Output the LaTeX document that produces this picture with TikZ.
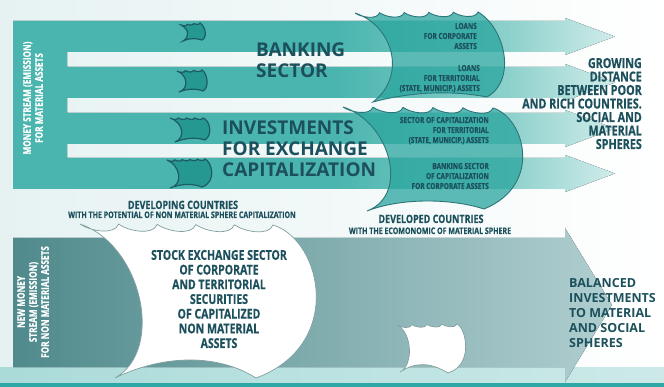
\documentclass[tikz,border=0pt]{standalone}
\usepackage{fontspec}
\setmainfont{Open Sans}
\newfontfamily\narrowfont{Open Sans}[FakeStretch=0.78,FakeBold=0.5]
\usetikzlibrary{calc}
\definecolor{streamteal}{RGB}{74,181,174}
\definecolor{streammid}{RGB}{140,208,203}
\definecolor{streamlight}{RGB}{208,236,234}
\definecolor{sailteal}{RGB}{40,165,158}
\definecolor{sailline}{RGB}{44,118,122}
\definecolor{flagline}{RGB}{28,92,98}
\definecolor{deepteal}{RGB}{28,80,92}
\definecolor{greyteal}{RGB}{80,138,140}
\definecolor{greylight}{RGB}{176,206,208}
\definecolor{bgpale}{RGB}{230,242,242}
\definecolor{bandteal}{RGB}{170,219,217}
\definecolor{edgeteal}{RGB}{45,168,166}
\definecolor{whiteline}{RGB}{128,158,160}
\pgfdeclarehorizontalshading{streamfade}{100bp}{color(0bp)=(streamteal); color(25bp)=(streamteal); color(52bp)=(streamteal); color(66bp)=(streammid); color(75bp)=(streamlight); color(100bp)=(streamlight)}

\begin{document}
\begin{tikzpicture}[x=1pt,y=-1pt,
    crest/.style={out=-35,in=-110,looseness=0.8},
    sail/.style={fill=sailteal,fill opacity=0.75,draw=sailline,line width=0.9pt},
    minisail/.style={fill=sailteal!92!black,draw=flagline,line width=1.2pt},
    papersail/.style={fill=white,draw=whiteline,line width=0.7pt},
    headline/.style={font=\bfseries\fontsize{19}{21}\selectfont,text=deepteal,inner sep=0pt,align=left},
    loantext/.style={font=\narrowfont\bfseries\fontsize{8.3}{10}\selectfont,text=deepteal,inner sep=0pt,align=right},
    growtext/.style={font=\narrowfont\bfseries\fontsize{13.8}{13.5}\selectfont,text=deepteal,inner sep=0pt,align=right},
    stocktext/.style={font=\narrowfont\bfseries\fontsize{13.5}{14.7}\selectfont,text=deepteal,inner sep=0pt,align=center},
    devtitle/.style={font=\narrowfont\bfseries\fontsize{11.5}{12}\selectfont,text=deepteal,inner sep=0pt,anchor=base},
    devsub/.style={font=\narrowfont\bfseries\fontsize{9}{10}\selectfont,text=deepteal,inner sep=0pt,anchor=base},
    sidetext/.style={font=\narrowfont\bfseries\fontsize{10.5}{12}\selectfont,text=white,inner sep=0pt,align=center,rotate=90},
    baltext/.style={font=\bfseries\fontsize{12.5}{14.75}\selectfont,text=deepteal,inner sep=0pt,align=left}]
  \useasboundingbox (0,0) rectangle (664,387);
  % background and bottom band
  \fill[left color=bgpale,right color=white] (0,0) rectangle (664,367);
  \fill[left color=bandteal,right color=bandteal!60!white] (0,367) rectangle (664,383);
  \fill[edgeteal] (0,383) rectangle (664,387);
  % upper money stream: side block and four arrows
  \fill[shading=streamfade]
    (13,21) -- (565,21) -- (565,18) -- (615,36.5) -- (565,55) -- (565,52)
    -- (67,52) -- (67,67) -- (565,67) -- (565,64) -- (615,82.5) -- (565,101) -- (565,98)
    -- (67,98) -- (67,113) -- (565,113) -- (565,110) -- (615,128.5) -- (565,147) -- (565,144)
    -- (67,144) -- (67,158) -- (565,158) -- (565,155) -- (615,173.5) -- (565,192) -- (565,189)
    -- (13,189) -- cycle;
  % lower money stream
  \fill[left color=greyteal,right color=greylight]
    (13,238) -- (565,238) -- (565,228) -- (612,305) -- (565,382) -- (565,367) -- (13,367) -- cycle;
  % small sails
  \coordinate (sa-tl) at (181,25); \coordinate (sa-tr) at (200,23);
  \coordinate (sa-br) at (202,40); \coordinate (sa-bl) at (183,41);
  \draw[minisail] (sa-tl) \foreach \k in {1,...,3}{ to[crest] ($(sa-tl)!\k/3!(sa-tr)$) }
    .. controls (205,26) and (208,37) .. (sa-br) .. controls (196,38) and (189,38) .. (sa-bl)
    .. controls (190,37) and (189,29) .. (sa-tl) -- cycle;
  \coordinate (sb-tl) at (177,71); \coordinate (sb-tr) at (202,70);
  \coordinate (sb-br) at (203,91); \coordinate (sb-bl) at (179,92);
  \draw[minisail] (sb-tl) \foreach \k in {1,...,3}{ to[crest] ($(sb-tl)!\k/3!(sb-tr)$) }
    .. controls (207,73) and (210,87) .. (sb-br) .. controls (196,88) and (186,89) .. (sb-bl)
    .. controls (189,89) and (188,75) .. (sb-tl) -- cycle;
  \coordinate (sc-tl) at (170,118); \coordinate (sc-tr) at (203,118);
  \coordinate (sc-br) at (205,140); \coordinate (sc-bl) at (175,142);
  \draw[minisail] (sc-tl) \foreach \k in {1,...,4}{ to[crest] ($(sc-tl)!\k/4!(sc-tr)$) }
    .. controls (210,120) and (213,135) .. (sc-br) .. controls (196,137) and (185,138) .. (sc-bl)
    .. controls (186,138) and (183,122) .. (sc-tl) -- cycle;
  \coordinate (sd-tl) at (167,160); \coordinate (sd-tr) at (205,159);
  \coordinate (sd-br) at (202,187); \coordinate (sd-bl) at (170,188);
  \draw[minisail] (sd-tl) \foreach \k in {1,...,5}{ to[crest] ($(sd-tl)!\k/5!(sd-tr)$) }
    .. controls (212,162) and (217,182) .. (sd-br) .. controls (192,183) and (180,184) .. (sd-bl)
    .. controls (184,185) and (180,165) .. (sd-tl) -- cycle;
  % big teal sails
  \coordinate (up-tl) at (355,13); \coordinate (up-tr) at (478,12);
  \coordinate (up-br) at (487,97); \coordinate (up-bl) at (373,102);
  \draw[sail] (up-tl) \foreach \k in {1,...,5}{ to[crest] ($(up-tl)!\k/5!(up-tr)$) }
    .. controls (505,28) and (517,80) .. (up-br) .. controls (450,90) and (410,92) .. (up-bl)
    .. controls (408,75) and (392,25) .. (up-tl) -- cycle;
  \coordinate (lo-tl) at (343,107); \coordinate (lo-tr) at (493,108);
  \coordinate (lo-br) at (484,209); \coordinate (lo-bl) at (367,211);
  \draw[sail] (lo-tl) \foreach \k in {1,...,5}{ to[crest] ($(lo-tl)!\k/5!(lo-tr)$) }
    .. controls (525,118) and (543,185) .. (lo-br) .. controls (450,198) and (400,198) .. (lo-bl)
    .. controls (410,195) and (390,122) .. (lo-tl) -- cycle;
  % white sails
  \coordinate (wb-tl) at (80,224); \coordinate (wb-tr) at (273,225);
  \coordinate (wb-br) at (256,378); \coordinate (wb-bl) at (115,378);
  \draw[papersail] (wb-tl) \foreach \k in {1,...,5}{ to[crest] ($(wb-tl)!\k/5!(wb-tr)$) }
    .. controls (322,240) and (345,345) .. (wb-br) .. controls (215,352) and (160,356) .. (wb-bl)
    .. controls (165,350) and (142,245) .. (wb-tl) -- cycle;
  \coordinate (ws-tl) at (397,325); \coordinate (ws-tr) at (457,324);
  \coordinate (ws-br) at (448,373); \coordinate (ws-bl) at (400,372);
  \draw[papersail] (ws-tl) \foreach \k in {1,...,4}{ to[crest] ($(ws-tl)!\k/4!(ws-tr)$) }
    .. controls (466,328) and (474,365) .. (ws-br) .. controls (430,362) and (415,362) .. (ws-bl)
    .. controls (414,365) and (412,332) .. (ws-tl) -- cycle;
  % texts (base = last line)
  \node[sidetext] (oldmoney) at (33,98) {MONEY STREAM (EMISSION)\\FOR MATERIAL ASSETS};
  \node[sidetext] (newmoney) at (33,302) {NEW MONEY\\STREAM (EMISSION)\\FOR NON MATERIAL ASSETS};
  \node[headline,anchor=base west] (banking) at (256,77.5) {BANKING\\SECTOR};
  \node[headline,anchor=base west] (invest) at (222,177) {INVESTMENTS\\FOR EXCHANGE\\CAPITALIZATION};
  \node[loantext,anchor=base east] (loancorp) at (477,49) {LOANS\\FOR CORPORATE\\ASSETS};
  \node[loantext,anchor=base east] (loanterr) at (480,91) {LOANS\\FOR TERRITORIAL\\(STATE, MUNICIP.) ASSETS};
  \node[loantext,anchor=base east] (capterr) at (489,143) {SECTOR OF CAPITALIZATION\\FOR TERRITORIAL\\(STATE, MUNICIP.) ASSETS};
  \node[loantext,anchor=base east] (capcorp) at (489,189) {BANKING SECTOR\\OF CAPITALIZATION\\FOR CORPORATE ASSETS};
  \node[growtext,anchor=base east] (growing) at (642,149) {GROWING\\DISTANCE\\BETWEEN POOR\\AND RICH COUNTRIES.\\SOCIAL AND\\MATERIAL\\SPHERES};
  \node[devtitle] (developing) at (183,209) {DEVELOPING COUNTRIES};
  \node[devsub] (potential) at (182,218) {WITH THE POTENTIAL OF NON MATERIAL SPHERE CAPITALIZATION};
  \node[devtitle] (developed) at (431,223) {DEVELOPED COUNTRIES};
  \node[devsub] (ecomonomic) at (430,234) {WITH THE ECOMONOMIC OF MATERIAL SPHERE};
  \node[stocktext,anchor=base] (stock) at (219,348) {STOCK EXCHANGE SECTOR\\OF CORPORATE\\AND TERRITORIAL\\SECURITIES\\OF CAPITALIZED\\NON MATERIAL\\ASSETS};
  \node[baltext,anchor=base west] (balanced) at (569,347) {BALANCED\\INVESTMENTS\\TO MATERIAL\\AND SOCIAL\\SPHERES};
\end{tikzpicture}
\end{document}
